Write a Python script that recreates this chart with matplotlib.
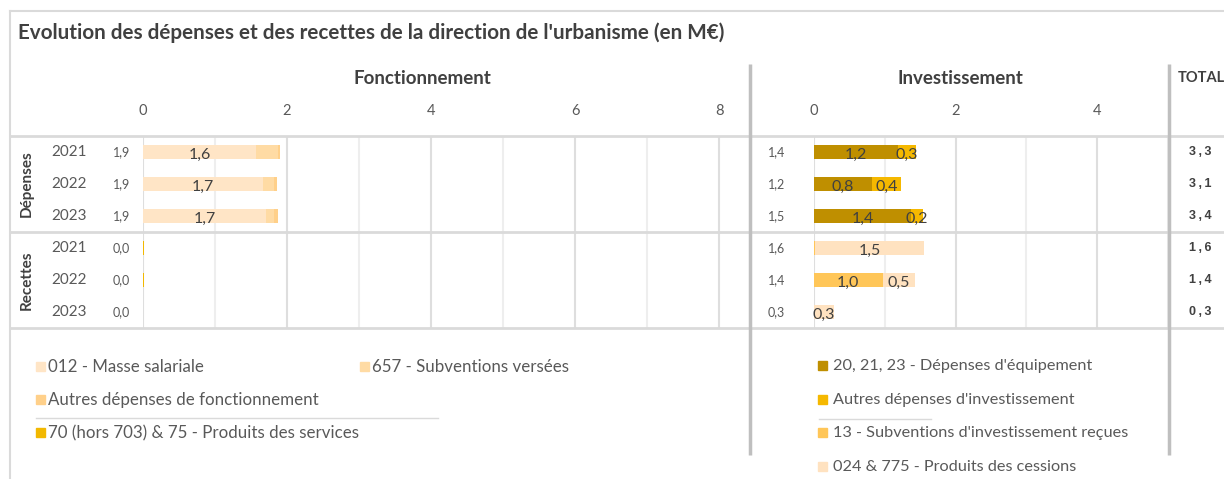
import numpy as np
import matplotlib.pyplot as plt
from matplotlib.patches import Rectangle
from matplotlib.transforms import blended_transform_factory as blend

plt.rcParams['font.family'] = ['Lato', 'DejaVu Sans']

# ==============================
# DATA
# ==============================
years = ['2021', '2022', '2023']
groups = ['Dépenses', 'Recettes']

# fonctionnement (rows: dépenses 2021-2023, recettes 2021-2023)
fonct_names = ['012 - Masse salariale', '657 - Subventions versées',
               'Autres dépenses de fonctionnement',
               '70 (hors 703) & 75 - Produits des services']
masse_salariale = [1.57, 1.66, 1.71, 0, 0, 0]
subv_versees = [0.30, 0.16, 0.11, 0, 0, 0]
autres_fonct = [0.03, 0.04, 0.06, 0, 0, 0]
produits_services = [0, 0, 0, 0.01, 0.01, 0]

# investissement
invest_names = ["20, 21, 23 - Dépenses d'équipement",
                "Autres dépenses d'investissement",
                "13 - Subventions d'investissement reçues",
                "024 & 775 - Produits des cessions"]
equipement = [1.18, 0.82, 1.37, 0, 0, 0]
autres_invest = [0.26, 0.41, 0.17, 0, 0, 0]
subv_recues = [0, 0, 0, 0.02, 0.97, 0]
cessions = [0, 0, 0, 1.54, 0.46, 0.28]

# ==============================
# STYLE
# ==============================
fonct_colors = ['#FFE5C6', '#FFDBA4', '#FFD08A', '#F2B800']
invest_colors = ['#BF8F00', '#F5B800', '#FFC658', '#FFE2C0']
fonct_labelled = [True, False, False, False]
invest_labelled = [True, True, True, True]

W, H = 1224, 479
TOP, BOT = 136, 328
GRID = '#DADADA'
SEP = '#BFBFBF'
DARK = '#404040'
GREY = '#595959'

fig = plt.figure(figsize=(W / 100, H / 100), dpi=100)

# overlay in pixel coordinates for frame lines and text
over = fig.add_axes([0, 0, 1, 1], zorder=5)
over.set_xlim(0, W)
over.set_ylim(H, 0)
over.axis('off')
over.patch.set_alpha(0)


def fmt(v):
    return f"{v:.1f}".replace('.', ',')


def panel(x0, x1, xmax, major, minor, series, colors, labelled):
    ax = fig.add_axes([x0 / W, 1 - BOT / H, (x1 - x0) / W, (BOT - TOP) / H])
    ax.set_xlim(0, xmax)
    ax.set_ylim(5.5, -0.5)
    ax.set_xticks(major)
    ax.set_xticks(minor, minor=True)
    ax.grid(axis='x', which='major', color='#DEDEDE', lw=1.5)
    ax.grid(axis='x', which='minor', color='#EEEEEE', lw=1.5)
    ax.set_axisbelow(True)
    ax.xaxis.tick_top()
    ax.tick_params(axis='x', which='both', length=0, pad=13,
                   labelsize=10.5, labelcolor=GREY)
    ax.set_yticks([])
    for s in ax.spines.values():
        s.set_visible(False)

    idx = np.arange(len(series[0]))
    left = np.zeros(len(idx))
    for vals, c, lab in zip(series, colors, labelled):
        vals = np.array(vals, dtype=float)
        ax.barh(idx, vals, left=left, height=0.42, color=c, zorder=2)
        if lab:
            for i, v in enumerate(vals):
                if v >= 0.1:
                    ax.text(left[i] + v / 2, i + 0.08, fmt(v), ha='center',
                            va='center', fontsize=11.5, color=DARK, zorder=3)
        left += vals
    return ax, left


ax_f, tot_f = panel(143, 748, 605 / 72, [0, 2, 4, 6, 8], [1, 3, 5, 7],
                    [masse_salariale, subv_versees, autres_fonct, produits_services],
                    fonct_colors, fonct_labelled)
ax_i, tot_i = panel(814, 1168, 5.0, [0, 2, 4], [1, 3, 5],
                    [equipement, autres_invest, subv_recues, cessions],
                    invest_colors, invest_labelled)

# ==============================
# TEXTS
# ==============================
over.text(18, 33, "Evolution des dépenses et des recettes de la direction de l'urbanisme (en M€)",
          fontsize=14.9, fontweight='bold', color=DARK, va='center', ha='left')
over.text(422, 78, 'Fonctionnement', fontsize=13.5, fontweight='bold',
          color=DARK, ha='center', va='center')
over.text(960, 78, 'Investissement', fontsize=13.5, fontweight='bold',
          color=DARK, ha='center', va='center')
over.text(1178, 78, 'TOTAL', fontsize=10.5, fontweight='bold',
          color=DARK, ha='left', va='center')

tr = blend(over.transData, ax_f.transData)
n = len(years)
for gi, g in enumerate(groups):
    over.text(27, gi * n + 1, g, transform=tr, rotation=90, ha='center',
              va='center', fontsize=11, fontweight='bold', color=DARK)
    for yi, y in enumerate(years):
        over.text(69, gi * n + yi, y, transform=tr, ha='center', va='center',
                  fontsize=11, color=GREY)

for i in range(len(tot_f)):
    over.text(130, i, fmt(tot_f[i]), transform=tr, ha='right', va='center',
              fontsize=9, color=GREY)
    over.text(785, i, fmt(tot_i[i]), transform=tr, ha='right', va='center',
              fontsize=9, color=GREY)
    over.text(1200, i, fmt(tot_f[i] + tot_i[i]).replace(',', '\u2009,\u2009'),
              transform=tr, ha='center', va='center', fontsize=9,
              fontweight='bold', color=DARK, family='Liberation Sans')

# ==============================
# FRAME LINES
# ==============================
over.plot([10, W], [11, 11], color=GRID, lw=1.5)
over.plot([10, 10], [11, H], color=GRID, lw=1.5)
for yy in (TOP, 232, BOT):
    over.plot([10, W], [yy, yy], color=GRID, lw=2)
for xx in (750, 1169):
    over.plot([xx, xx], [64, 455], color=SEP, lw=2.5, solid_capstyle='butt')
over.plot([36, 438], [418, 418], color=GRID, lw=1)
over.plot([819, 931], [419, 419], color=GRID, lw=1)

# ==============================
# LEGENDS
# ==============================
legends = [(fonct_names, fonct_colors, 12.2, 12,
            [(36, 367), (360, 367), (36, 400), (36, 433)]),
           (invest_names, invest_colors, 11.7, 15,
            [(818, 366), (818, 400), (818, 433), (818, 467)])]
for names, colors, size, off, pos in legends:
    for name, c, (x, y) in zip(names, colors, pos):
        over.add_patch(Rectangle((x, y - 5), 9, 9, color=c))
        over.text(x + off, y, name, fontsize=size, color=GREY, ha='left', va='center')

fig.savefig('out.png', dpi=100, facecolor='white')
